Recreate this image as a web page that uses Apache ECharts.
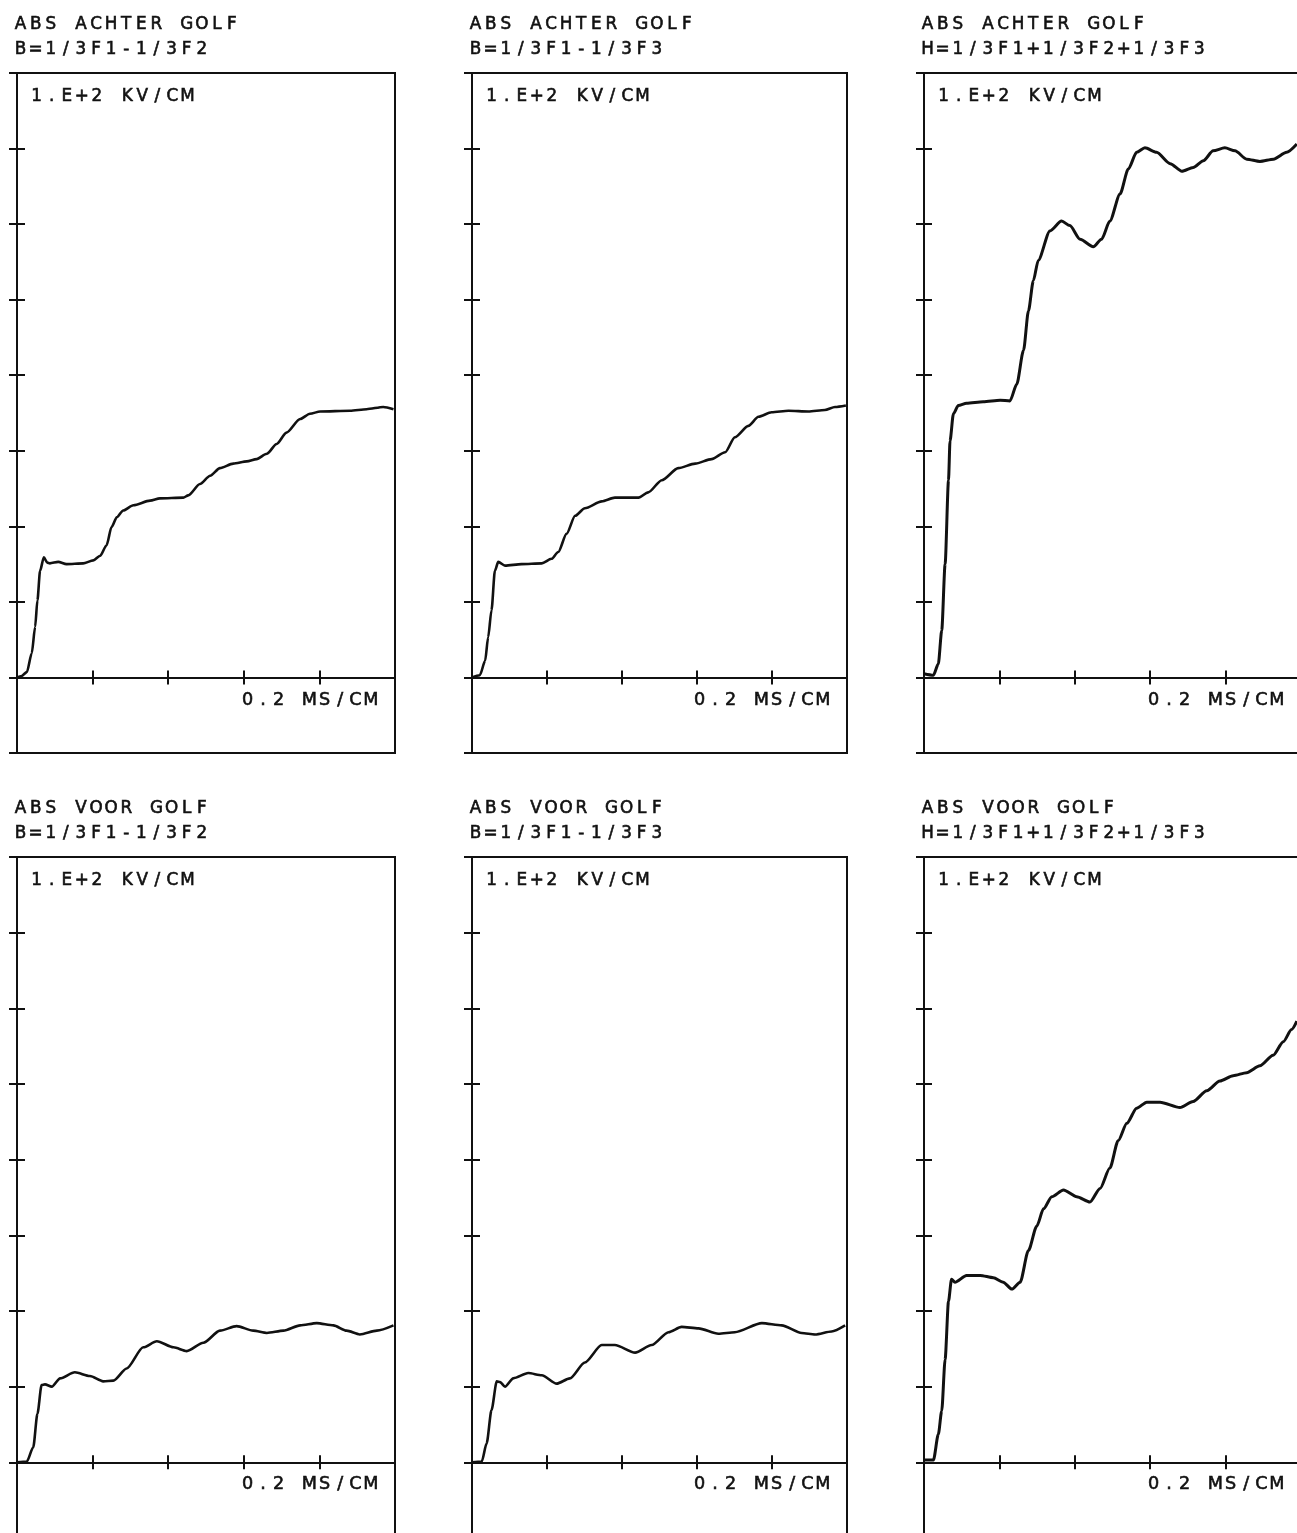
<!DOCTYPE html>
<html>
<head>
<meta charset="utf-8">
<script src="https://cdn.jsdelivr.net/npm/echarts@6/dist/echarts.min.js"></script>
<style>
  html, body { margin: 0; padding: 0; background: #fff; overflow: hidden; }
  #chart { width: 1297px; height: 1533px; }
</style>
</head>
<body>
<div id="chart"></div>
<script>
// Panel headings (wave type, phase combination)
const panelHeadings = [
  ['ABS ACHTER GOLF', 'B=1/3F1-1/3F2'],
  ['ABS ACHTER GOLF', 'B=1/3F1-1/3F3'],
  ['ABS ACHTER GOLF', 'H=1/3F1+1/3F2+1/3F3'],
  ['ABS VOOR GOLF', 'B=1/3F1-1/3F2'],
  ['ABS VOOR GOLF', 'B=1/3F1-1/3F3'],
  ['ABS VOOR GOLF', 'H=1/3F1+1/3F2+1/3F3']
];

// Scale annotations: one vertical division = 100 kV/cm, one horizontal division = 0.2 ms
const yScaleLabel = '1.E+2 KV/CM';
const xScaleLabel = '0.2 MS/CM';
const yDivision = 100;   // kV/cm
const xDivision = 0.2;   // ms
const yMinDiv = -1, yMaxDiv = 8;
const xMaxDiv = 5;

// Rear wave, B = 1/3F1 - 1/3F2  (time in ms, field in kV/cm)
const achterB12Time = [0, 0.012, 0.026, 0.039, 0.048, 0.054, 0.061, 0.071, 0.080, 0.087, 0.109, 0.131, 0.175, 0.202, 0.220, 0.237, 0.250, 0.264, 0.281, 0.308, 0.352, 0.378, 0.440, 0.453, 0.484, 0.511, 0.537, 0.572, 0.608, 0.634, 0.661, 0.687, 0.713, 0.749, 0.775, 0.802, 0.881, 0.925, 0.969, 0.996];
const achterB12Field = [0, 2, 7, 32, 67, 102, 141, 159, 152, 151, 153, 150, 151, 155, 161, 175, 199, 212, 221, 228, 234, 237, 238, 241, 256, 267, 277, 283, 286, 289, 296, 309, 324, 342, 349, 352, 353, 355, 358, 355];

// Rear wave, B = 1/3F1 - 1/3F3
const achterB13Time = [0, 0.021, 0.035, 0.043, 0.052, 0.061, 0.070, 0.088, 0.132, 0.186, 0.212, 0.230, 0.252, 0.275, 0.301, 0.346, 0.381, 0.444, 0.470, 0.506, 0.550, 0.595, 0.639, 0.675, 0.701, 0.737, 0.764, 0.799, 0.844, 0.897, 0.941, 0.968, 0.997];
const achterB13Field = [0, 3, 22, 53, 89, 141, 153, 148, 150, 151, 157, 166, 190, 214, 224, 233, 238, 238, 245, 261, 277, 283, 289, 298, 318, 333, 345, 351, 353, 352, 354, 358, 360];

// Rear wave, H = 1/3F1 + 1/3F2 + 1/3F3
const achterHTime = [0, 0.025, 0.038, 0.047, 0.056, 0.065, 0.069, 0.078, 0.091, 0.113, 0.157, 0.202, 0.228, 0.246, 0.264, 0.277, 0.290, 0.303, 0.334, 0.365, 0.387, 0.414, 0.449, 0.471, 0.493, 0.520, 0.542, 0.564, 0.586, 0.617, 0.653, 0.684, 0.714, 0.741, 0.767, 0.798, 0.825, 0.856, 0.891, 0.927, 0.962, 0.989];
const achterHField = [5, 3, 18, 62, 150, 261, 313, 349, 360, 363, 365, 367, 366, 388, 433, 485, 525, 552, 591, 604, 598, 580, 570, 580, 604, 640, 673, 695, 701, 695, 680, 670, 675, 684, 697, 701, 697, 686, 683, 686, 695, 706];

// Front wave, B = 1/3F1 - 1/3F2
const voorB12Time = [0, 0.026, 0.043, 0.054, 0.065, 0.074, 0.092, 0.114, 0.153, 0.193, 0.228, 0.255, 0.290, 0.334, 0.370, 0.414, 0.449, 0.493, 0.537, 0.581, 0.625, 0.661, 0.705, 0.749, 0.793, 0.837, 0.872, 0.907, 0.952, 0.996];
const voorB12Field = [0, 1, 20, 64, 102, 103, 100, 111, 119, 114, 107, 108, 124, 152, 160, 152, 147, 158, 174, 180, 174, 171, 174, 181, 184, 181, 174, 169, 174, 181];

// Front wave, B = 1/3F1 - 1/3F3
const voorB13Time = [0, 0.026, 0.039, 0.052, 0.066, 0.075, 0.088, 0.110, 0.150, 0.186, 0.226, 0.261, 0.301, 0.346, 0.381, 0.435, 0.479, 0.524, 0.559, 0.604, 0.657, 0.701, 0.773, 0.826, 0.879, 0.915, 0.959, 0.995];
const voorB13Field = [0, 1, 25, 69, 107, 106, 100, 111, 118, 115, 104, 111, 132, 155, 155, 145, 155, 172, 179, 177, 170, 172, 184, 181, 171, 169, 173, 181];

// Front wave, H = 1/3F1 + 1/3F2 + 1/3F3
const voorHTime = [0, 0.025, 0.038, 0.047, 0.056, 0.065, 0.073, 0.082, 0.113, 0.149, 0.184, 0.210, 0.233, 0.255, 0.277, 0.299, 0.317, 0.339, 0.370, 0.405, 0.440, 0.467, 0.493, 0.515, 0.538, 0.564, 0.591, 0.626, 0.679, 0.714, 0.750, 0.785, 0.820, 0.856, 0.891, 0.926, 0.953, 0.975, 0.989];
const voorHField = [3, 3, 37, 68, 136, 213, 242, 238, 247, 247, 244, 238, 229, 238, 280, 312, 335, 351, 360, 351, 344, 362, 389, 425, 448, 468, 476, 476, 469, 477, 491, 504, 511, 515, 524, 538, 556, 572, 583];

const traces = [
  [achterB12Time, achterB12Field],
  [achterB13Time, achterB13Field],
  [achterHTime, achterHField],
  [voorB12Time, voorB12Field],
  [voorB13Time, voorB13Field],
  [voorHTime, voorHField]
];

// Frame geometry of the plot boxes (pixels)
const colLeft = [17, 472, 924];
const colWidth = [378, 375, 377];
const rowTop = [73, 857];
const rowHeight = [680, 681];

const INK = '#111';
const FONT = '"DejaVu Sans", "Liberation Sans", sans-serif';

// Plotter lettering: fixed character pitch, one centred rich token per character,
// with a thin outline in the ink colour to mimic the pen stroke width
const rich = {
  t: { width: 15.1, fontSize: 16.8, lineHeight: 18, fontFamily: FONT, fontWeight: 'normal', color: INK,
       textBorderColor: INK, textBorderWidth: 0.6, align: 'center' },
  u: { width: 15.4, fontSize: 17.6, lineHeight: 19, fontFamily: FONT, fontWeight: 'normal', color: INK,
       textBorderColor: INK, textBorderWidth: 0.6, align: 'center' }
};
function plotterText(str, key) {
  return str.split('').map(function (ch) { return '{' + key + '|' + ch + '}'; }).join('');
}

const grids = [], xAxes = [], yAxes = [], series = [], titles = [];

traces.forEach(function (trace, i) {
  const r = Math.floor(i / 3), c = i % 3;
  const left = colLeft[c], width = colWidth[c];
  const top = rowTop[r], height = rowHeight[r];
  const zeroY = top + height * yMaxDiv / (yMaxDiv - yMinDiv);

  grids.push({
    left: left, top: top, width: width, height: height,
    outerBoundsMode: 'none', containLabel: false,
    show: true, borderColor: INK, borderWidth: 2, backgroundColor: 'transparent'
  });

  // two coincident axes per direction give ticks that cross the axis line
  [false, true].forEach(function (inside) {
    xAxes.push({
      gridIndex: i, type: 'value', position: 'bottom',
      min: 0, max: xMaxDiv * xDivision, interval: xDivision,
      axisLine: { show: true, onZero: true, lineStyle: { color: INK, width: 2 } },
      axisTick: { show: true, inside: inside, length: 7, lineStyle: { color: INK, width: 2 } },
      axisLabel: { show: false }, splitLine: { show: false }
    });
    yAxes.push({
      gridIndex: i, type: 'value', position: 'left',
      min: yMinDiv * yDivision, max: yMaxDiv * yDivision, interval: yDivision,
      axisLine: { show: true, onZero: false, lineStyle: { color: INK, width: 2 } },
      axisTick: { show: true, inside: inside, length: 8, lineStyle: { color: INK, width: 2 } },
      axisLabel: { show: false }, splitLine: { show: false }
    });
  });

  series.push({
    type: 'line',
    xAxisIndex: 2 * i, yAxisIndex: 2 * i,
    data: trace[0].map(function (t, k) { return [t, trace[1][k]]; }),
    symbol: 'none', showSymbol: false,
    smooth: 0.25, smoothMonotone: 'x',
    lineStyle: { color: INK, width: (c === 2 ? 3 : 2.6) },
    silent: true, animation: false
  });

  const heading = panelHeadings[i];
  const ts = { fontWeight: 'normal', rich: rich };
  titles.push({ text: plotterText(heading[0], 't'), left: left - 4, top: top - 57, padding: 0, textStyle: ts });
  titles.push({ text: plotterText(heading[1], 't'), left: left - 4, top: top - 32, padding: 0, textStyle: ts });
  titles.push({ text: plotterText(yScaleLabel, 't'), left: left + 12, top: top + 15, padding: 0, textStyle: ts });
  titles.push({ text: plotterText(xScaleLabel, 'u'), left: left + width - 155, top: zeroY + 13, padding: 0, textStyle: ts });
});

const chart = echarts.init(document.getElementById('chart'), null, { renderer: 'canvas' });
chart.setOption({
  backgroundColor: '#ffffff',
  animation: false,
  title: titles,
  grid: grids,
  xAxis: xAxes,
  yAxis: yAxes,
  series: series
});
</script>
</body>
</html>
